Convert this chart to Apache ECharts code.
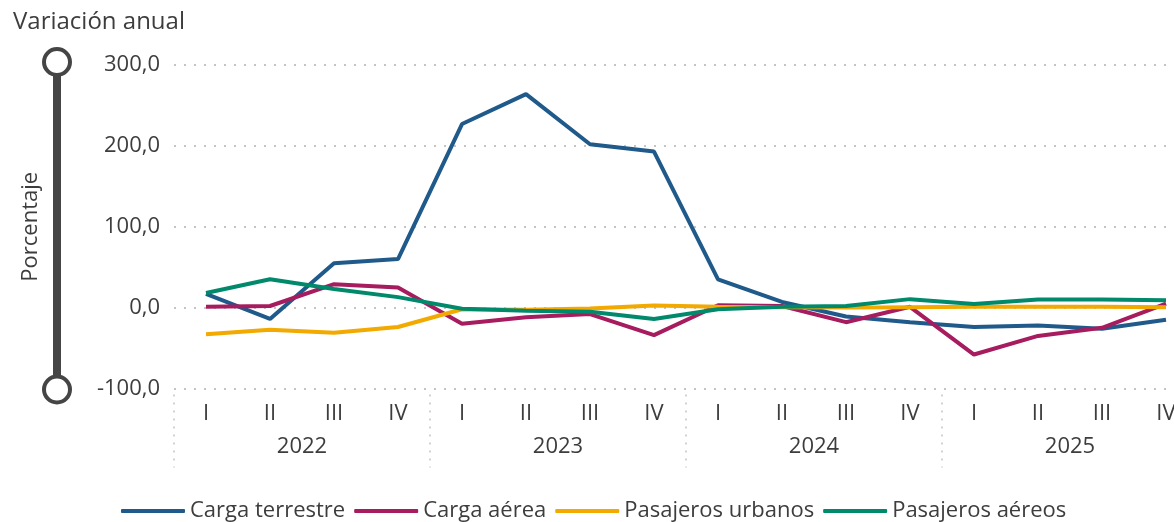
<!DOCTYPE html>
<html>
<head>
<meta charset="utf-8">
<script src="https://cdn.jsdelivr.net/npm/echarts@6/dist/echarts.min.js"></script>
<style>
  html, body { margin: 0; padding: 0; background: #ffffff; overflow: hidden; width: 1174px; height: 522px; }
  /* the plot continues slightly past the right edge of the view */
  #chart { width: 1198px; height: 522px; }
</style>
</head>
<body>
<div id="chart"></div>
<script>
// Variación anual por trimestre, 2022-2025
const quarters = ['I', 'II', 'III', 'IV', 'I', 'II', 'III', 'IV', 'I', 'II', 'III', 'IV', 'I', 'II', 'III', 'IV'];
const years = ['2022', '2023', '2024', '2025'];

const cargaTerrestre = [17, -14, 55, 60, 227, 264, 202, 193, 35, 7, -11, -18, -24, -22, -26, -15];
const cargaAerea = [1, 2, 29, 25, -20, -12, -8, -34, 3, 2, -18, 1, -58, -35, -25, 5];
const pasajerosUrbanos = [-33, -27.5, -31, -24, -2, -2.5, -1, 2.5, 1, 0.5, 0, 0.5, 1, 1, 1, 0.5];
const pasajerosAereos = [18, 35, 23, 13, -1.5, -4, -5, -14, -2, 1, 2, 10.5, 4.5, 10, 10, 9];

const yMin = -100, yMax = 300, yStep = 100;

const FONT = '"Open Sans", "Noto Sans", sans-serif';
const TEXT = '#3d3d3d';
const DOTS = '#c4c4c4';

const seriesDefs = [
  { name: 'Carga terrestre', data: cargaTerrestre, color: '#1F5A8B' },
  { name: 'Carga aérea', data: cargaAerea, color: '#A61C5E' },
  { name: 'Pasajeros urbanos', data: pasajerosUrbanos, color: '#F2A900' },
  { name: 'Pasajeros aéreos', data: pasajerosAereos, color: '#00896B' }
];

const chart = echarts.init(document.getElementById('chart'), null, { renderer: 'canvas' });

chart.setOption({
  animation: false,
  backgroundColor: '#ffffff',
  textStyle: { fontFamily: FONT, color: TEXT },
  title: {
    text: 'Variación anual',
    left: 8,
    top: 5,
    textStyle: { fontFamily: FONT, fontSize: 24, fontWeight: 'normal', color: TEXT }
  },
  legend: {
    data: seriesDefs.map(s => s.name),
    left: 116,
    top: 495,
    orient: 'horizontal',
    itemWidth: 64,
    itemHeight: 4,
    itemGap: 9,
    icon: 'roundRect',
    textStyle: { fontFamily: FONT, fontSize: 22, color: TEXT }
  },
  grid: {
    left: 174,
    right: 0,
    top: 65,
    bottom: 133.5,
    containLabel: false
  },
  xAxis: [
    {
      type: 'category',
      data: quarters,
      boundaryGap: true,
      position: 'bottom',
      axisLine: { show: false },
      axisTick: { show: false },
      axisLabel: { interval: 0, margin: 14, fontFamily: FONT, fontSize: 22, color: TEXT }
    },
    {
      type: 'category',
      data: years,
      boundaryGap: true,
      position: 'bottom',
      offset: 6,
      axisLine: { show: false },
      axisTick: {
        show: true,
        interval: 0,
        length: 73,
        lineStyle: { color: DOTS, width: 1.5, type: [2, 6] }
      },
      axisLabel: { interval: 0, margin: 41, fontFamily: FONT, fontSize: 22, color: TEXT }
    }
  ],
  yAxis: {
    type: 'value',
    min: yMin,
    max: yMax,
    interval: yStep,
    name: 'Porcentaje',
    nameLocation: 'middle',
    nameRotate: 90,
    nameGap: 132,
    nameTextStyle: { fontFamily: FONT, fontSize: 22, color: TEXT },
    axisLine: { show: false },
    axisTick: { show: false },
    axisLabel: {
      margin: 14,
      fontFamily: FONT,
      fontSize: 22,
      color: TEXT,
      formatter: v => v.toFixed(1).replace('.', ',')
    },
    splitLine: { show: true, lineStyle: { color: DOTS, width: 2, type: [2, 8] } }
  },
  series: seriesDefs.map(s => ({
    name: s.name,
    type: 'line',
    data: s.data,
    xAxisIndex: 0,
    symbol: 'none',
    showSymbol: false,
    color: s.color,
    lineStyle: { width: 4, color: s.color },
    itemStyle: { color: s.color }
  }))
});

// Vertical scale marker on the left, anchored to the axis extremes
const topY = chart.convertToPixel({ yAxisIndex: 0 }, yMax);
const botY = chart.convertToPixel({ yAxisIndex: 0 }, yMin);
const markX = 57;
const markColor = '#454545';
chart.setOption({
  graphic: [
    {
      type: 'line',
      shape: { x1: markX, y1: topY, x2: markX, y2: botY },
      style: { stroke: markColor, lineWidth: 8 },
      z: 10
    },
    {
      type: 'circle',
      shape: { cx: markX, cy: topY - 3, r: 13 },
      style: { fill: '#ffffff', stroke: markColor, lineWidth: 4 },
      z: 11
    },
    {
      type: 'circle',
      shape: { cx: markX, cy: botY + 1, r: 13 },
      style: { fill: '#ffffff', stroke: markColor, lineWidth: 4 },
      z: 11
    }
  ]
});
</script>
</body>
</html>
